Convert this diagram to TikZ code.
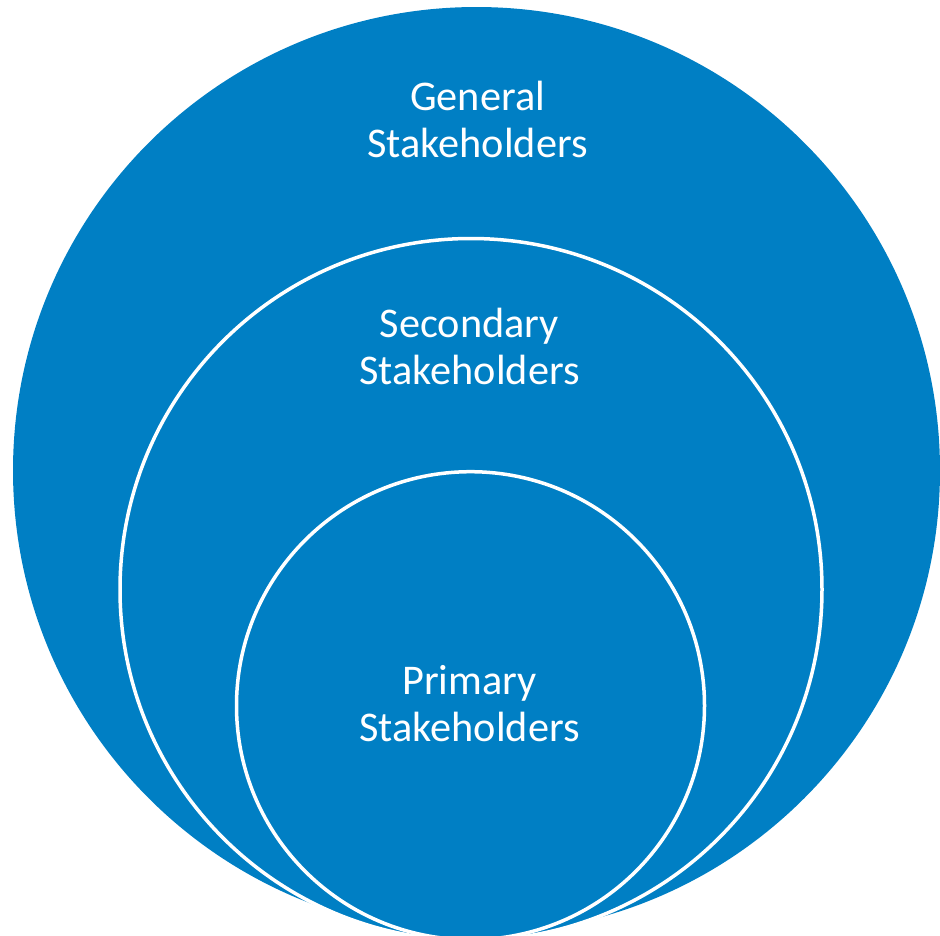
\documentclass[tikz,border=0pt]{standalone}
\usepackage{fontspec}
\setmainfont{Carlito}
\definecolor{ringblue}{RGB}{0,127,196}
\begin{document}
\begin{tikzpicture}[x=1pt,y=-1pt,
  ring/.style={circle,fill=ringblue,draw=white,line width=3.5pt,inner sep=0pt,outer sep=0pt},
  outerring/.style={circle,fill=ringblue,draw=none,inner sep=0pt,outer sep=0pt},
  lbl/.style={text=white,align=center,font=\fontsize{42.3}{46.5}\selectfont,inner sep=0pt,anchor=base}]
\useasboundingbox (0,0) rectangle (940,935);
\clip (0,0) rectangle (940,935);
\node[outerring,minimum size=927pt] (general) at (476.5,470.5) {};
\node[ring,minimum size=702pt] (secondary) at (471,589.5) {};
\node[ring,minimum size=468pt] (primary) at (470.5,705.7) {};
\node[lbl] (generaltext) at (477.5,157) {General\\Stakeholders};
\node[lbl] (secondarytext) at (469.5,384) {Secondary\\Stakeholders};
\node[lbl] (primarytext) at (469.5,741) {Primary\\Stakeholders};
\end{tikzpicture}
\end{document}
